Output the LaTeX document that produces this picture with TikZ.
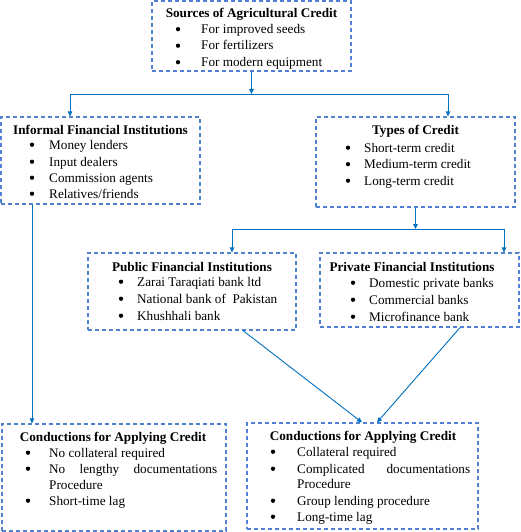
\documentclass[tikz,border=0pt]{standalone}
\usepackage{fontspec}
\setmainfont{Liberation Serif}
\usetikzlibrary{arrows.meta,calc}
\definecolor{dashblue}{RGB}{80,128,208}
\definecolor{arrblue}{RGB}{0,112,192}
\begin{document}
\begin{tikzpicture}[x=1pt,y=-1pt,
 box/.style={draw=dashblue, line width=1.2pt, dash pattern=on 4pt off 3pt, rectangle, inner sep=0pt},
 ttl/.style={font=\fontsize{13.2}{16.5}\selectfont\bfseries, inner sep=0pt, anchor=base},
 itm/.style={font=\fontsize{13.2}{16.5}\selectfont, inner sep=0pt, anchor=base west},
 bul/.style={circle, fill=black, inner sep=0pt, minimum size=4.3pt, yshift=4.3pt},
 arr/.style={draw=arrblue, line width=0.9pt, -{Triangle[length=5pt,width=4.5pt]}},
 ln/.style={draw=arrblue, line width=0.9pt}]
\useasboundingbox (0,0) rectangle (520,532);

% boxes
\node[box, minimum width=199pt, minimum height=70pt] (src) at (251.5,36) {};
\node[box, minimum width=199pt, minimum height=87pt] (inf) at (100.5,160.5) {};
\node[box, minimum width=199pt, minimum height=90pt] (types) at (415.5,162) {};
\node[box, minimum width=208pt, minimum height=77pt] (pub) at (192,291.5) {};
\node[box, minimum width=199pt, minimum height=74pt] (priv) at (419.5,290) {};
\node[box, minimum width=224pt, minimum height=107pt] (cl) at (114,477.5) {};
\node[box, minimum width=231pt, minimum height=106pt] (cr) at (362.5,476) {};

% source box text
\node[ttl] (srct) at (251.5,18) {Sources of Agricultural Credit};
\foreach \i/\y/\t in {1/33.5/{For improved seeds}, 2/50/{For fertilizers}, 3/66.5/{For modern equipment}}{
  \node[bul] (srcb\i) at (178,\y) {};
  \node[itm] (srci\i) at (201,\y) {\t};
}

% informal
\node[ttl] (inft) at (100.5,134) {Informal Financial Institutions};
\foreach \i/\y/\t in {1/149/{Money lenders}, 2/166/{Input dealers}, 3/182/{Commission agents}, 4/198/{Relatives/friends}}{
  \node[bul] (infb\i) at (32,\y) {};
  \node[itm] (infi\i) at (49,\y) {\t};
}

% types
\node[ttl] (typt) at (415.5,134) {Types of Credit};
\foreach \i/\y/\t in {1/152/{Short-term credit}, 2/168.5/{Medium-term credit}, 3/185/{Long-term credit}}{
  \node[bul] (typb\i) at (348,\y) {};
  \node[itm] (typi\i) at (364,\y) {\t};
}

% public
\node[ttl] (pubt) at (192,271) {Public Financial Institutions};
\foreach \i/\y/\t in {1/286/{Zarai Taraqiati bank ltd}, 2/303/{National bank of\ \ Pakistan}, 3/320/{Khushhali bank}}{
  \node[bul] (pubb\i) at (121,\y) {};
  \node[itm] (pubi\i) at (137,\y) {\t};
}

% private
\node[ttl] (prit) at (412,271) {Private Financial Institutions};
\foreach \i/\y/\t in {1/287/{Domestic private banks}, 2/304/{Commercial banks}, 3/321/{Microfinance bank}}{
  \node[bul] (prib\i) at (353,\y) {};
  \node[itm] (prii\i) at (369,\y) {\t};
}

% conditions left
\node[ttl] (clt) at (113,441) {Conductions for Applying Credit};
\node[bul] (clb1) at (28,457) {};
\node[itm] (cli1) at (49,457) {No collateral required};
\node[bul] (clb2) at (28,473) {};
\node[itm] (cli2) at (49,473) {\makebox[168pt][s]{No lengthy documentations}};
\node[itm] (cli2b) at (49,489) {Procedure};
\node[bul] (clb3) at (28,505) {};
\node[itm] (cli3) at (49,505) {Short-time lag};

% conditions right
\node[ttl] (crt) at (363,440) {Conductions for Applying Credit};
\node[bul] (crb1) at (273,456) {};
\node[itm] (cri1) at (297,456) {Collateral required};
\node[bul] (crb2) at (273,473) {};
\node[itm] (cri2) at (297,473) {\makebox[173pt][s]{Complicated documentations}};
\node[itm] (cri2b) at (297,488) {Procedure};
\node[bul] (crb3) at (273,505) {};
\node[itm] (cri3) at (297,505) {Group lending procedure};
\node[bul] (crb4) at (273,521) {};
\node[itm] (cri4) at (297,521) {Long-time lag};

% connectors
\coordinate (j1) at (251.5,94);
\coordinate (jL) at (70,94);
\coordinate (jR) at (448,94);
\draw[arr] (src.south) -- (j1);
\draw[ln] (jL) -- (jR);
\draw[arr] (jL) -- (inf.north -| jL);
\draw[arr] (jR) -- (types.north -| jR);

\coordinate (j2) at (415.5,229);
\coordinate (j2L) at (232,229);
\coordinate (j2R) at (504,229);
\draw[arr] (types.south) -- (j2);
\draw[ln] (j2L) -- (j2R);
\draw[arr] (j2L) -- (pub.north -| j2L);
\draw[arr] (j2R) -- (priv.north -| j2R);

\coordinate (v1) at (32,204);
\draw[arr] (inf.south -| v1) -- (cl.north -| v1);

\draw[arr] ([xshift=51pt]pub.south) -- ([xshift=-0.5pt]cr.north);
\draw[arr] ([xshift=40.5pt]priv.south) -- ([xshift=14.5pt]cr.north);
\end{tikzpicture}
\end{document}
